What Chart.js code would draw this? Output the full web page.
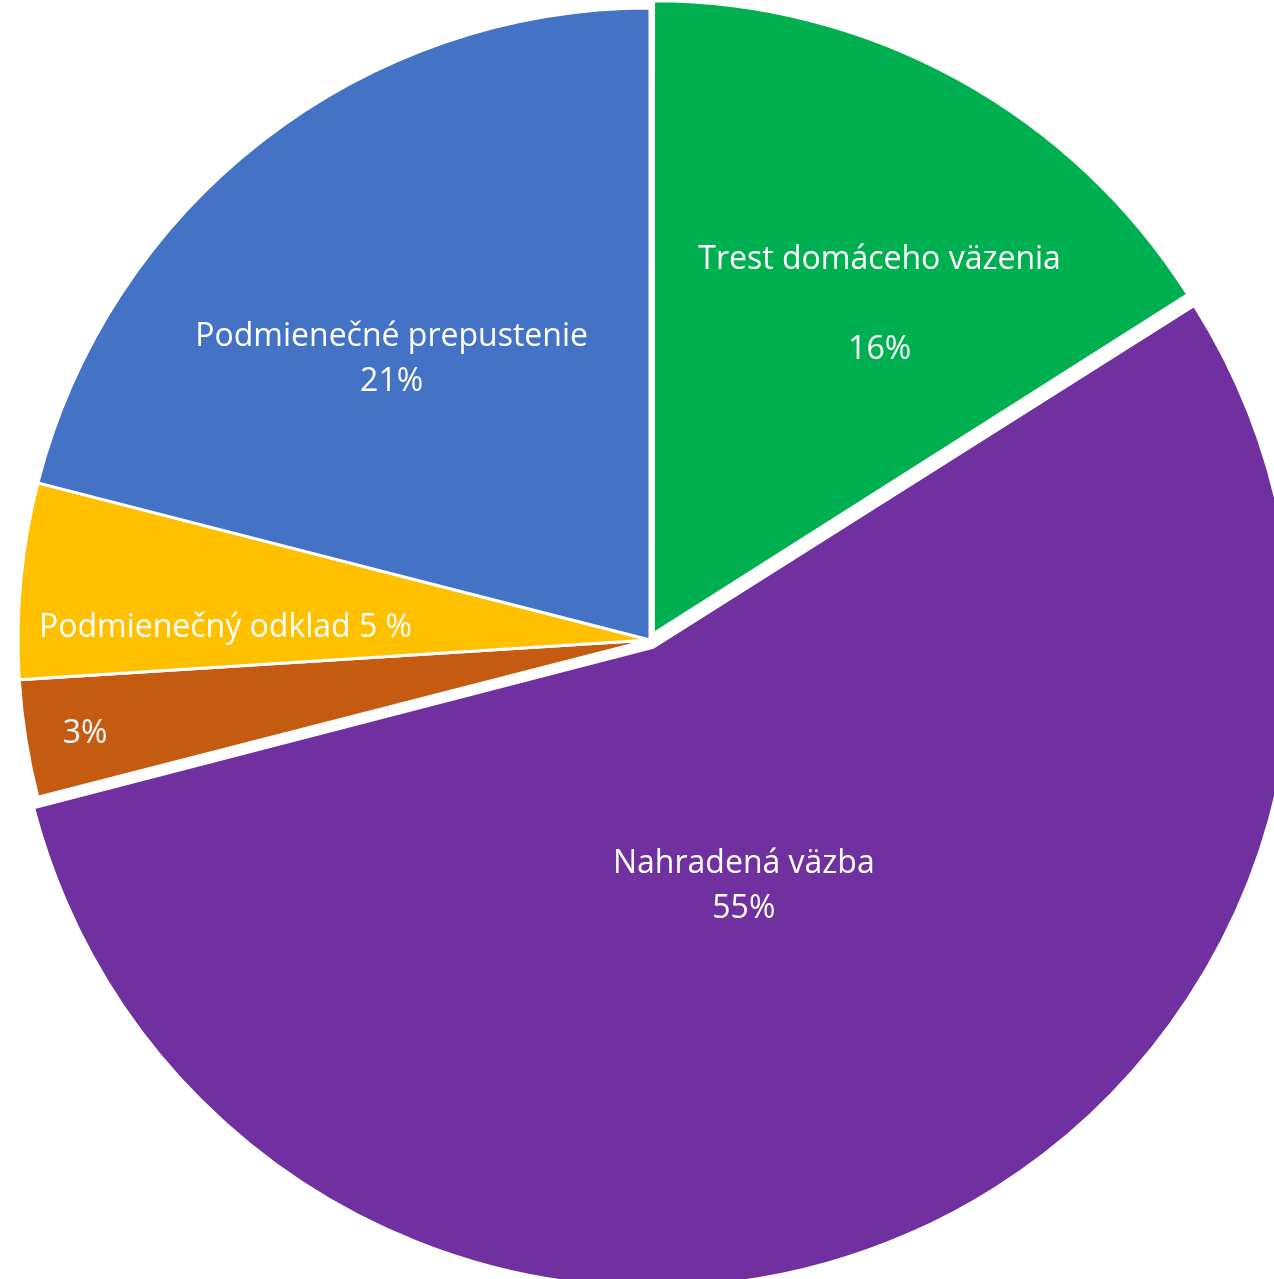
<!DOCTYPE html>
<html>
<head>
<meta charset="utf-8">
<script src="https://cdn.jsdelivr.net/npm/chart.js@4"></script>
<style>
    html, body { margin: 0; padding: 0; background: #fff; overflow: hidden; }
    #myPieChart { position: absolute; left: 0; top: 0; }
</style>
</head>
<body>
<canvas id="myPieChart" width="1300" height="1280"></canvas>
<script>
// data
const categories = ['Trest domáceho väzenia', 'Nahradená väzba', '', 'Podmienečný odklad 5 %', 'Podmienečné prepustenie'];
const values = [16, 55, 3, 5, 21];
const showPercent = [true, true, true, false, true];
const blankLine = [true, false, false, false, false];

const colors = [
    '#00B050', // green
    '#7030A0', // purple
    '#C55A11', // brown
    '#FFC000', // yellow
    '#4472C4'  // blue
];
// explode in px (Chart.js v4 divides arc offset by 4)
const explode = [7, 8, 0, 0, 0];
// label anchor: angle shift from slice middle (deg), distance as part of radius
const labelShift = [5.7, 2.6, -0.4, -3.7, -4.8];
const labelDist = [0.632, 0.404, 0.906, 0.672, 0.604];

const FONT = '32px "Open Sans"';
const LINE_H = 45;

// 조각 안 라벨
const sliceLabels = {
    id: 'sliceLabels',
    afterDatasetsDraw(chart) {
        const ctx = chart.ctx;
        const meta = chart.getDatasetMeta(0);
        const total = values.reduce((a, b) => a + b, 0);
        ctx.save();
        ctx.font = FONT;
        ctx.fillStyle = '#ffffff';
        ctx.textAlign = 'center';
        ctx.textBaseline = 'middle';
        meta.data.forEach((arc, i) => {
            const p = arc.getProps(['x', 'y', 'startAngle', 'endAngle', 'outerRadius']);
            const mid = (p.startAngle + p.endAngle) / 2;
            const cx = p.x + Math.cos(mid) * explode[i];
            const cy = p.y + Math.sin(mid) * explode[i];
            const a = mid + labelShift[i] * Math.PI / 180;
            const r = p.outerRadius * labelDist[i];
            const lx = cx + Math.cos(a) * r;
            const ly = cy + Math.sin(a) * r;

            const lines = [];
            if (categories[i]) lines.push(categories[i]);
            if (blankLine[i]) lines.push('');
            if (showPercent[i]) lines.push(Math.round(values[i] / total * 100) + '%');
            const top = ly - (lines.length - 1) * LINE_H / 2;
            lines.forEach((t, k) => ctx.fillText(t, lx, top + k * LINE_H));
        });
        ctx.restore();
    }
};

const data = {
    labels: categories,
    datasets: [{
        data: values,
        backgroundColor: colors,
        borderColor: '#ffffff',
        borderWidth: 3,
        offset: explode.map(v => v * 4),
        clip: false
    }]
};

const config = {
    type: 'pie',
    data: data,
    options: {
        responsive: false,
        maintainAspectRatio: false,
        devicePixelRatio: 1,
        animation: false,
        radius: 632,
        layout: { padding: 0 },
        plugins: {
            legend: { display: false },
            tooltip: { enabled: false }
        }
    },
    plugins: [sliceLabels]
};

const myPieChart = new Chart(document.getElementById('myPieChart'), config);
</script>
</body>
</html>
